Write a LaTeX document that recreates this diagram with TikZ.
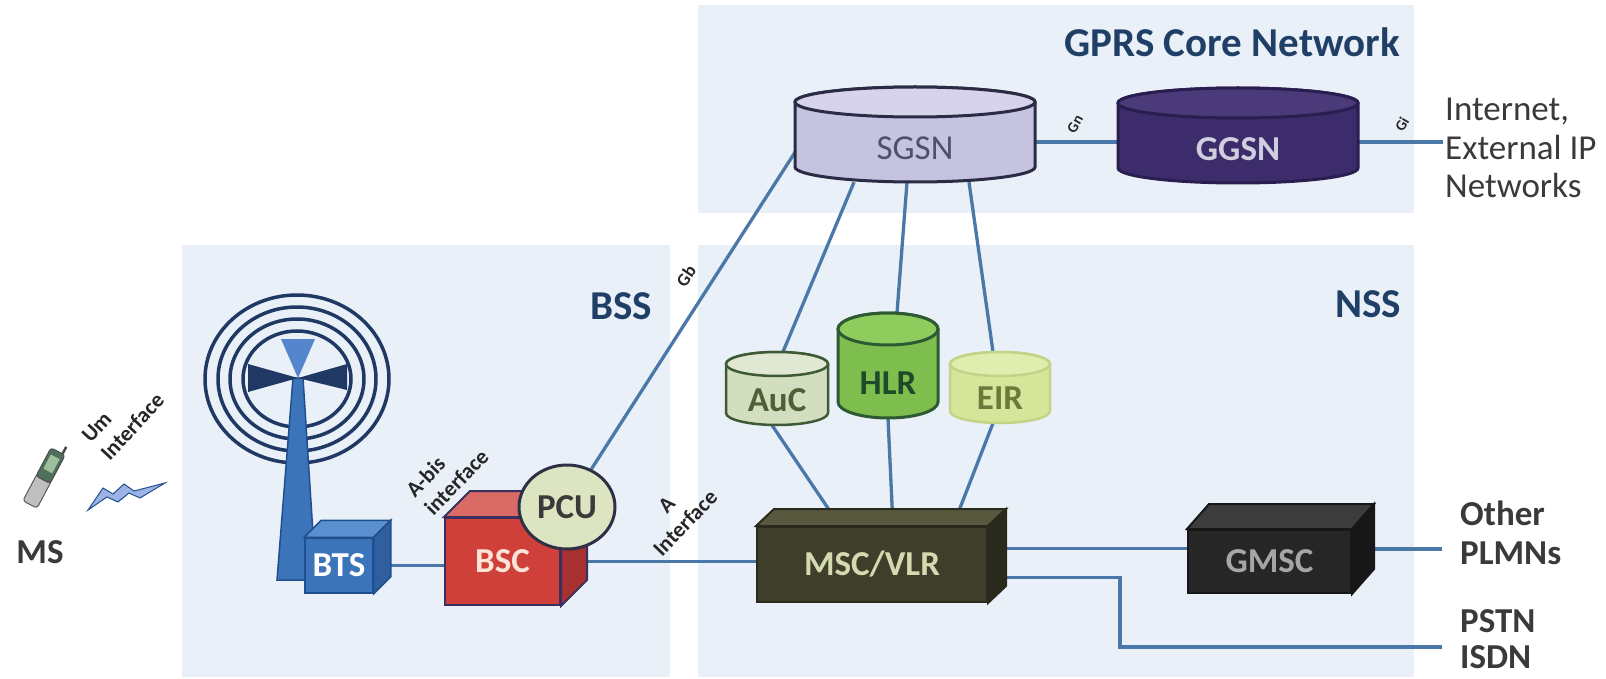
\documentclass[tikz,border=0pt]{standalone}
\usepackage{fontspec}
\setmainfont{Carlito}
\usepackage{tikz}
\usetikzlibrary{shapes.geometric, calc}

\definecolor{pannello}{HTML}{EAF0F8}
\definecolor{titblu}{HTML}{1F3F66}
\definecolor{lineablu}{HTML}{4A78A8}
\definecolor{testo}{HTML}{3A3A3A}
\definecolor{nero}{HTML}{262626}
\definecolor{navy}{HTML}{1F3864}
\definecolor{btsfronte}{HTML}{3C74B9}
\definecolor{btssopra}{HTML}{5A8FD0}
\definecolor{btslato}{HTML}{2E5F9E}
\definecolor{btsbordo}{HTML}{1F4F8F}
\definecolor{btschiaro}{HTML}{5585CC}
\definecolor{bscfronte}{HTML}{D0403A}
\definecolor{bscsopra}{HTML}{D96A66}
\definecolor{bsclato}{HTML}{A83030}
\definecolor{bscbordo}{HTML}{3A3060}
\definecolor{bsctesto}{HTML}{FCE4D6}
\definecolor{pcu}{HTML}{DCE4C2}
\definecolor{pcubordo}{HTML}{2F2F45}
\definecolor{mscfronte}{HTML}{3E3E2B}
\definecolor{mscsopra}{HTML}{58583F}
\definecolor{msclato}{HTML}{2A2A1C}
\definecolor{msctesto}{HTML}{D4DAB0}
\definecolor{gmscfronte}{HTML}{262626}
\definecolor{gmscsopra}{HTML}{3C3C3C}
\definecolor{gmsclato}{HTML}{171717}
\definecolor{gmsctesto}{HTML}{A6A6A6}
\definecolor{sgsn}{HTML}{C5C3E0}
\definecolor{sgsnsopra}{HTML}{D6D3EB}
\definecolor{sgsnbordo}{HTML}{2B2B45}
\definecolor{sgsntesto}{HTML}{4F4F6F}
\definecolor{ggsn}{HTML}{3D2C6B}
\definecolor{ggsnsopra}{HTML}{4B3A7A}
\definecolor{ggsnbordo}{HTML}{2A1D4F}
\definecolor{ggsntesto}{HTML}{CFCFDF}
\definecolor{auc}{HTML}{D3DDC0}
\definecolor{aucsopra}{HTML}{E0E8D2}
\definecolor{aucbordo}{HTML}{3D5A35}
\definecolor{auctesto}{HTML}{505F35}
\definecolor{hlr}{HTML}{7DBE4E}
\definecolor{hlrsopra}{HTML}{8FCC5E}
\definecolor{hlrbordo}{HTML}{2D5A33}
\definecolor{hlrtesto}{HTML}{1F4A2A}
\definecolor{eir}{HTML}{D5E69A}
\definecolor{eirsopra}{HTML}{DFEDAE}
\definecolor{eirbordo}{HTML}{C2D488}
\definecolor{eirtesto}{HTML}{6A7A3A}
\definecolor{telefono}{HTML}{4F6F5A}
\definecolor{schermo}{HTML}{9CC09C}
\definecolor{fulmine}{HTML}{9DB3E6}

\pgfdeclarelayer{sfondo}
\pgfdeclarelayer{linee}
\pgfsetlayers{sfondo,linee,main}

\tikzset{
    etic/.style={font=\fontsize{35}{39}\selectfont\bfseries},
    etr/.style={font=\fontsize{35}{38.5}\selectfont},
    titolo/.style={font=\fontsize{41}{48}\selectfont\bfseries, text=titblu},
    interf/.style={font=\fontsize{22}{26}\selectfont\bfseries, text=nero, inner sep=0pt},
    gsigla/.style={font=\fontsize{15}{17}\selectfont\bfseries, text=nero, inner sep=0pt},
    cubo/.style={rectangle, inner sep=0pt, line width=2pt, etic},
    linea/.style={draw=lineablu, line width=3.3pt},
}

% cilindro: nome, x, y ellisse sopra, rx, ry, altezza, stile, colore sopra
\newcommand{\cilindro}[8]{%
    \node[inner sep=0pt, minimum width={2*#4}, minimum height={#6+2*#5}] (#1) at (#2,{#3+#6/2}) {};
    \filldraw[#7] ({#2-#4},#3) -- ({#2-#4},{#3+#6}) arc[start angle=180, end angle=0, x radius=#4, y radius=#5]
        -- ({#2+#4},#3) arc[start angle=0, end angle=-180, x radius=#4, y radius=#5] -- cycle;
    \filldraw[#7, fill=#8] (#2,#3) ellipse[x radius=#4, y radius=#5];
}

% facce del cubo: nodo, dx, dy, stile, colore sopra, colore lato
\newcommand{\facce}[6]{%
    \filldraw[#4, fill=#5] (#1.north west) -- ++(#2,-#3) -- ($(#1.north east)+(#2,-#3)$) -- (#1.north east) -- cycle;
    \filldraw[#4, fill=#6] (#1.north east) -- ++(#2,-#3) -- ($(#1.south east)+(#2,-#3)$) -- (#1.south east) -- cycle;
}

\begin{document}
\begin{tikzpicture}[x=1pt, y=-1pt]
    % Parametri
    \pgfmathsetmacro{\cx}{297}
    \pgfmathsetmacro{\cy}{379}
    \useasboundingbox (0,0) rectangle (1606,679);

    % Sfondi
    \begin{pgfonlayer}{sfondo}
        \fill[white] (0,0) rectangle (1606,679);
        \fill[pannello] (698,5) rectangle (1414,213);
        \fill[pannello] (182,245) rectangle (670,677);
        \fill[pannello] (698,245) rectangle (1414,677);
    \end{pgfonlayer}
    \node[titolo, anchor=east, inner sep=0pt] (gprs) at (1400,42) {GPRS Core Network};
    \node[titolo, inner sep=0pt] (bss) at (621,306) {BSS};
    \node[titolo, inner sep=0pt] (nss) at (1368,304) {NSS};

    % Antenna
    \foreach \rx/\ry in {92/84, 79/72, 67/60, 54/48}
        \draw[navy, line width=3.5pt] (\cx,\cy) ellipse[x radius=\rx, y radius=\ry];
    \filldraw[fill=btsfronte, draw=btsbordo, line width=1.5pt] (293,378) -- (303,378) -- (316,580) -- (277,580) -- cycle;
    \fill[btschiaro] (281,339) -- (315,339) -- (298,378) -- cycle;
    \fill[navy] (298,378) -- (248,364) -- (248,392) -- cycle;
    \fill[navy] (298,378) -- (347,364) -- (347,390) -- cycle;

    % MS
    \begin{scope}[shift={(44,478)}, rotate=-28]
        \filldraw[fill=gray!50, draw=gray!70!black, line width=1pt, rounded corners=3pt] (-8,-2) rectangle (8,30);
        \filldraw[fill=telefono, draw=gray!60!black, line width=1pt, rounded corners=3pt] (-8,-30) rectangle (8,2);
        \fill[schermo] (-5,-24) rectangle (5,-8);
        \draw[gray!60!black, line width=2.5pt] (5,-30) -- (5,-38);
    \end{scope}
    \filldraw[fill=fulmine, draw=btsbordo, line width=1pt] (88,510) -- (103,488) -- (113,494) -- (124,484) -- (134,491)
        -- (165,483) -- (140,498) -- (129,493) -- (118,502) -- (107,497) -- cycle;
    \node[etic, text=testo, inner sep=0pt] (ms) at (40,552) {MS};
    \node[interf, rotate=47, align=left] (um) at (123,418) {Um\\Interface};

    % BSS
    \node[cubo, fill=btsfronte, draw=btsbordo, line width=1.5pt, text=white, minimum width=68pt, minimum height=55pt] (bts) at (339,565.5) {BTS};
    \facce{bts}{17}{17}{draw=btsbordo, line width=1.5pt}{btssopra}{btslato}
    \node[cubo, fill=bscfronte, draw=bscbordo, text=bsctesto, minimum width=115pt, minimum height=87pt] (bsc) at (502.5,561.5) {BSC\hspace{22pt}};
    \facce{bsc}{26}{26}{draw=bscbordo, line width=2pt}{bscsopra}{bsclato}
    \node[ellipse, etic, draw=pcubordo, fill=pcu, text=testo, line width=3pt, inner sep=0pt, minimum width=96pt, minimum height=84pt] (pcu) at (567,507) {PCU};
    \node[interf, rotate=46, align=left] (abis) at (447,473) {A-bis\\interface};
    \node[interf, rotate=46, align=center] (aint) at (676,514) {A\\Interface};
    \node[gsigla, font=\fontsize{18}{20}\selectfont\bfseries, rotate=56] (gb) at (686,276) {Gb};

    % GPRS core
    \cilindro{sgsn}{915}{102}{120}{15}{65}{draw=sgsnbordo, line width=3pt, fill=sgsn}{sgsnsopra}
    \node[etr, text=sgsntesto, inner sep=0pt] (sgsn-l) at ([yshift=-13.5pt]sgsn.center) {SGSN};
    \cilindro{ggsn}{1238}{103}{120}{15}{65}{draw=ggsnbordo, line width=3pt, fill=ggsn}{ggsnsopra}
    \node[etic, text=ggsntesto, inner sep=0pt] (ggsn-l) at ([yshift=-13.5pt]ggsn.center) {GGSN};
    \node[gsigla, rotate=60] (gn) at (1075,124) {Gn};
    \node[gsigla, rotate=60] (gi) at (1402,124) {Gi};
    \node[etr, text=testo, align=left, anchor=west, inner sep=0pt] (inet) at (1445,148) {Internet,\\External IP\\Networks};

    % NSS
    \cilindro{auc}{777}{364}{51}{12}{49}{draw=aucbordo, line width=2.5pt, fill=auc}{aucsopra}
    \node[etic, text=auctesto, inner sep=0pt] (auc-l) at ([yshift=-11.5pt]auc.center) {AuC};
    \cilindro{hlr}{888}{329}{50}{16}{73}{draw=hlrbordo, line width=3pt, fill=hlr}{hlrsopra}
    \node[etic, text=hlrtesto, inner sep=0pt] (hlr-l) at ([yshift=-17.5pt]hlr.center) {HLR};
    \cilindro{eir}{1000}{364}{50}{12}{47}{draw=eirbordo, line width=2.5pt, fill=eir}{eirsopra}
    \node[etic, text=eirtesto, inner sep=0pt] (eir-l) at ([yshift=-10.5pt]eir.center) {EIR};
    \node[cubo, fill=mscfronte, draw=msclato, text=msctesto, minimum width=230pt, minimum height=75pt] (msc) at (872,564.5) {MSC/VLR\hspace{36pt}};
    \facce{msc}{18}{17}{draw=msclato, line width=2pt}{mscsopra}{msclato}
    \node[cubo, fill=gmscfronte, draw=gmsclato, text=gmsctesto, minimum width=163pt, minimum height=63pt] (gmsc) at (1269.5,561.5) {GMSC};
    \facce{gmsc}{22}{25}{draw=gmsclato, line width=2pt}{gmscsopra}{gmsclato}
    \node[etic, text=testo, align=left, anchor=west, inner sep=0pt] (plmn) at (1460,532.5) {Other\\PLMNs};
    \node[etic, font=\fontsize{35}{36}\selectfont\bfseries, text=testo, align=left, anchor=west, inner sep=0pt] (pstn) at (1460,639.5) {PSTN\\ISDN};

    % Collegamenti
    \begin{pgfonlayer}{linee}
        \draw[linea] (bts.east) -- (bts.east -| bsc.west);
        \draw[linea] (bsc.east) -- (bsc.east -| msc.west);
        \draw[linea] (pcu) -- ($(sgsn.west)+(2,15)$);
        \draw[linea] ($(sgsn.south)+(-61,0)$) -- ($(auc.north)+(6,0)$);
        \draw[linea] ($(sgsn.south)+(-8,0)$) -- ($(hlr.north)+(9,0)$);
        \draw[linea] ($(sgsn.south)+(54,0)$) -- ($(eir.north)+(-7,0)$);
        \draw[linea] ($(auc.south)+(-5,0)$) -- ($(msc.north)+(-32,0)$);
        \draw[linea] (hlr.south) -- ($(msc.north)+(21,0)$);
        \draw[linea] ($(eir.south)+(-7,0)$) -- ($(msc.north)+(81,0)$);
        \draw[linea] ($(sgsn.east)+(0,7.5)$) -- ($(ggsn.west)+(0,6.5)$);
        \coordinate (g0) at ($(ggsn.east)+(0,6.5)$);
        \draw[linea, shorten >=2pt] (g0) -- (g0 -| inet.west);
        \coordinate (m1) at ($(msc.east)+(0,-16)$);
        \draw[linea] (m1) -- (m1 -| gmsc.west);
        \coordinate (g1) at ($(gmsc.east)+(0,-12.5)$);
        \draw[linea, shorten >=18pt] (g1) -- (g1 -| plmn.west);
        \coordinate (m2) at ($(msc.east)+(0,13)$);
        \draw[linea, shorten >=18pt] (m2) -- ++(132,0) |- ($(pstn.west)+(0,7.5)$);
    \end{pgfonlayer}
\end{tikzpicture}
\end{document}
